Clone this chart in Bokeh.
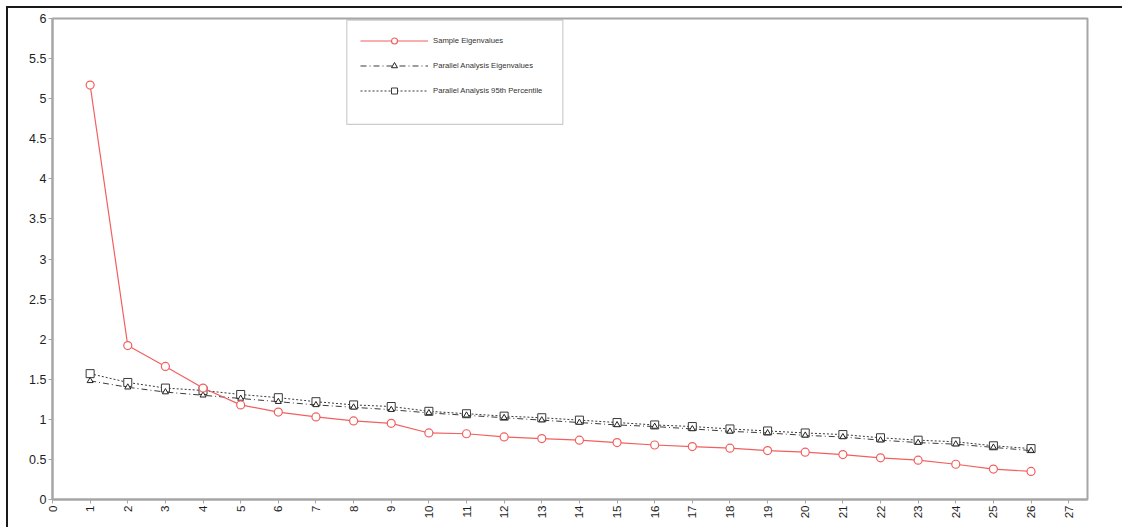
import math
from bokeh.plotting import figure
from bokeh.models import (Range1d, FixedTicker, NumeralTickFormatter, Legend, LegendItem,
                          BoxAnnotation, ColumnDataSource)
from bokeh.embed import file_html
from bokeh.resources import INLINE

# ---- data ----
components = list(range(1, 27))
sample_eig = [5.17, 1.92, 1.66, 1.39, 1.18, 1.09, 1.03, 0.98, 0.95, 0.83, 0.82, 0.78, 0.76,
              0.74, 0.71, 0.68, 0.66, 0.64, 0.61, 0.59, 0.56, 0.52, 0.49, 0.44, 0.38, 0.35]
pa_eig = [1.48, 1.40, 1.34, 1.30, 1.26, 1.22, 1.18, 1.15, 1.12, 1.08, 1.05, 1.02, 0.99,
          0.96, 0.93, 0.91, 0.88, 0.85, 0.83, 0.80, 0.78, 0.74, 0.71, 0.69, 0.65, 0.61]
pa_p95 = [1.57, 1.46, 1.39, 1.36, 1.31, 1.27, 1.22, 1.18, 1.16, 1.10, 1.07, 1.04, 1.02,
          0.99, 0.96, 0.93, 0.91, 0.88, 0.855, 0.83, 0.81, 0.77, 0.74, 0.72, 0.67, 0.635]
x_ticks = list(range(0, 28))
y_ticks = [0, 0.5, 1, 1.5, 2, 2.5, 3, 3.5, 4, 4.5, 5, 5.5, 6]
labels = ["Sample Eigenvalues", "Parallel Analysis Eigenvalues", "Parallel Analysis 95th Percentile"]

RED = "#f25f5f"
DARK = "#3a3a3a"
GREY = "#a6a6a6"
FONT = "Liberation Sans"

src = ColumnDataSource(dict(x=components, s=sample_eig, pa=pa_eig, p95=pa_p95))

p = figure(width=1116, height=521, output_backend="svg", toolbar_location=None,
           x_range=Range1d(0, 27.5), y_range=Range1d(0, 6),
           min_border_left=44, min_border_right=37, min_border_top=10, min_border_bottom=30)
p.styles = {"margin-left": "6px", "margin-top": "6px",
            "border-left": "2px solid #1a1a1a", "border-top": "2px solid #1a1a1a"}

p.xgrid.visible = False
p.ygrid.visible = False
p.outline_line_color = GREY
p.outline_line_width = 2
p.background_fill_color = "white"
p.border_fill_color = "white"

for ax in (p.xaxis[0], p.yaxis[0]):
    ax.axis_line_color = GREY
    ax.axis_line_width = 2
    ax.major_tick_line_color = GREY
    ax.major_tick_line_width = 1
    ax.major_tick_out = 4
    ax.major_tick_in = 0
    ax.minor_tick_line_color = None
    ax.major_label_text_font = FONT
    ax.major_label_text_color = "#1e1e1e"
    ax.major_label_standoff = 2

p.xaxis.ticker = FixedTicker(ticks=x_ticks)
p.xaxis.major_label_orientation = math.pi / 2
p.xaxis.major_label_text_font_size = "11.5px"
p.yaxis.ticker = FixedTicker(ticks=y_ticks)
p.yaxis.formatter = NumeralTickFormatter(format="0.[0]")
p.yaxis.major_label_text_font_size = "12.5px"

# series
l95 = p.line("x", "p95", source=src, line_color=DARK, line_width=1, line_dash="2 2")
m95 = p.scatter("x", "p95", source=src, marker="square", size=8, line_color=DARK,
                fill_color="white", line_width=1)
lpa = p.line("x", "pa", source=src, line_color=DARK, line_width=1, line_dash="6 3 1 3")
mpa = p.scatter("x", "pa", source=src, marker="triangle", size=6, line_color="#222",
                fill_color="white", line_width=1)
ls = p.line("x", "s", source=src, line_color=RED, line_width=1.2)
ms = p.scatter("x", "s", source=src, marker="circle", size=8, line_color=RED,
               fill_color="white", line_width=1.2)

# legend frame
box = BoxAnnotation(left=7.82, right=13.56, top=5.98, bottom=4.68,
                    fill_alpha=0, line_color="#555555", line_width=1.2)
p.add_layout(box)

legend = Legend(items=[LegendItem(label=labels[0], renderers=[ls, ms]),
                       LegendItem(label=labels[1], renderers=[lpa, mpa]),
                       LegendItem(label=labels[2], renderers=[l95, m95])],
                location=(300, 393), orientation="vertical",
                glyph_width=68, glyph_height=15, label_height=15, spacing=10,
                padding=8, margin=0, label_standoff=5,
                label_text_font=FONT, label_text_font_size="7.7px", label_text_color="#333333",
                border_line_alpha=0, background_fill_alpha=0)
p.add_layout(legend)

open("out.html", "w").write(file_html(p, INLINE))
